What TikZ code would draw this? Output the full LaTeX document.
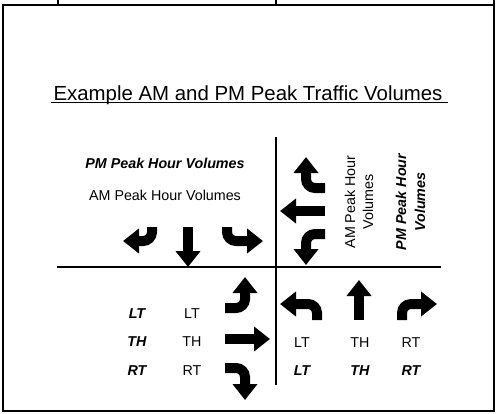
\documentclass[tikz,border=0pt]{standalone}
\usepackage{fontspec}
\setmainfont{Liberation Sans}
\usetikzlibrary{arrows.meta}
\begin{document}
\begin{tikzpicture}[x=1pt,y=-1pt,
  frame/.style={line width=2.5pt},
  axis/.style={line width=2pt},
  mvarrow/.style={line width=10pt,-{Triangle[width=24pt,length=16pt]},rounded corners=9pt},
  lbl/.style={font=\fontsize{14.3}{17}\selectfont, inner sep=0pt, anchor=base},
  blbl/.style={font=\fontsize{14.3}{17}\selectfont\bfseries\itshape, inner sep=0pt, anchor=base},
]
\useasboundingbox (0,0) rectangle (500,413);
% frame
\draw[frame] (2,5) -- (495,5);
\draw[frame] (3,4) -- (3,411);
\draw[frame] (494,0) -- (494,412);
\draw[frame] (2,411) -- (495,411);
\draw[frame] (58,0) -- (58,5);
\draw[frame] (276,0) -- (276,5);
% title
\node[font=\fontsize{20.4}{24}\selectfont, inner sep=0pt, anchor=base] (title) at (248,100) {Example AM and PM Peak Traffic Volumes};
\draw[line width=1.3pt] (51,102.5) -- (448,102.5);
% cross
\draw[axis] (276,137) -- (276,385);
\draw[axis] (57,267) -- (441,267);
% southbound
\draw[mvarrow] (152,227) -- (152,241) -- (123,241);
\draw[mvarrow] (188,227) -- (188,267);
\draw[mvarrow] (227,227) -- (227,241) -- (263,241);
% westbound
\draw[mvarrow] (325,188) -- (306,188) -- (306,157);
\draw[mvarrow] (325,211) -- (280,211);
\draw[mvarrow] (325,234) -- (306,234) -- (306,265);
% eastbound
\draw[mvarrow] (225,308) -- (245,308) -- (245,277);
\draw[mvarrow] (225,339) -- (270,339);
\draw[mvarrow] (225,368) -- (245,368) -- (245,400);
% northbound
\draw[mvarrow] (317,320) -- (317,304) -- (280,304);
\draw[mvarrow] (359,320) -- (359,280);
\draw[mvarrow] (402,320) -- (402,304) -- (437,304);
% labels
\node[blbl] (pmlbl) at (165,168) {PM Peak Hour Volumes};
\node[lbl] (amlbl) at (165,200) {AM Peak Hour Volumes};
\node[lbl, rotate=90] (amA) at (355,202) {AM Peak Hour};
\node[lbl, rotate=90] (amB) at (373,202) {Volumes};
\node[blbl, rotate=90] (pmA) at (406,202) {PM Peak Hour};
\node[blbl, rotate=90] (pmB) at (425,202) {Volumes};
% eastbound text
\node[blbl] (eLTb) at (137,318) {LT};
\node[blbl] (eTHb) at (137,346) {TH};
\node[blbl] (eRTb) at (137,375) {RT};
\node[lbl] (eLT) at (192,318) {LT};
\node[lbl] (eTH) at (192,346) {TH};
\node[lbl] (eRT) at (192,375) {RT};
% northbound text
\node[lbl] (nLT) at (302,347) {LT};
\node[lbl] (nTH) at (360,347) {TH};
\node[lbl] (nRT) at (411,347) {RT};
\node[blbl] (nLTb) at (302,375) {LT};
\node[blbl] (nTHb) at (360,375) {TH};
\node[blbl] (nRTb) at (411,375) {RT};
\end{tikzpicture}
\end{document}
